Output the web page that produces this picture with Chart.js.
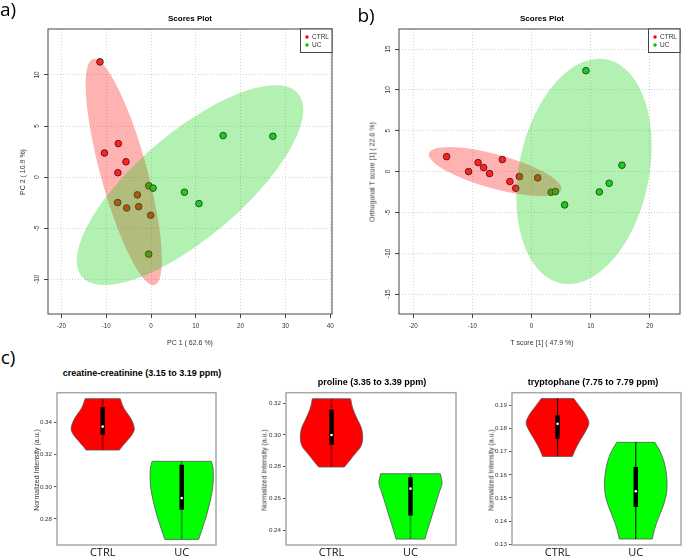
<!DOCTYPE html>
<html>
<head>
<meta charset="utf-8">
<script src="https://cdn.jsdelivr.net/npm/chart.js@4.4.1/dist/chart.umd.min.js"></script>
<style>
  body { margin: 0; background: #fff; }
  #fig { position: relative; width: 685px; height: 557px; overflow: hidden; background: #fff; }
  #fig canvas { position: absolute; }
  .t { position: absolute; white-space: nowrap; transform: translate(-50%, -50%); line-height: 1;
       font-family: 'Liberation Sans', Arial, sans-serif; color: #333; }
  .rot { transform: translate(-50%, -50%) rotate(-90deg); }
  .letter { font-family: 'Open Sans', sans-serif; font-size: 19px; color: #000; }
  .ttl { font-weight: bold; font-size: 8px; color: #000; }
  .vttl { font-weight: bold; font-size: 9px; color: #000; }
  .ax { font-size: 7px; }
</style>
</head>
<body>
<div id="fig">
  <canvas id="pca" width="345" height="340" style="left:0;top:0"></canvas>
  <canvas id="opls" width="335" height="340" style="left:350px;top:0"></canvas>
  <canvas id="v1" width="228" height="172" style="left:0;top:385px"></canvas>
  <canvas id="v2" width="230" height="172" style="left:230px;top:385px"></canvas>
  <canvas id="v3" width="225" height="172" style="left:460px;top:385px"></canvas>

  <div class="t letter" style="left:8px;top:9px">a)</div>
  <div class="t letter" style="left:366px;top:15px">b)</div>
  <div class="t letter" style="left:8px;top:357px">c)</div>

  <div class="t ttl" style="left:190px;top:19px">Scores Plot</div>
  <div class="t ttl" style="left:542px;top:19px">Scores Plot</div>
  <div class="t ax" style="left:190px;top:342px">PC 1 ( 62.6 %)</div>
  <div class="t ax" style="left:542px;top:342px">T score [1] ( 47.9 %)</div>
  <div class="t ax rot" style="left:22px;top:172px">PC 2 ( 10.9 %)</div>
  <div class="t ax rot" style="left:372px;top:172px">Orthogonal T score [1] ( 22.6 %)</div>

  <div class="t vttl" style="left:142px;top:373px">creatine-creatinine (3.15 to 3.19 ppm)</div>
  <div class="t vttl" style="left:372px;top:382px">proline (3.35 to 3.39 ppm)</div>
  <div class="t vttl" style="left:593px;top:382px">tryptophane (7.75 to 7.79 ppm)</div>
  <div class="t ax rot" style="left:36px;top:470px">Normalized Intensity (a.u.)</div>
  <div class="t ax rot" style="left:264px;top:470px">Normalized Intensity (a.u.)</div>
  <div class="t ax rot" style="left:491px;top:470px">Normalized Intensity (a.u.)</div>
</div>

<script>
const groups = ['CTRL', 'UC'];
const pointColors = ['#ff3030', '#30c830'];
const ellipseColors = ['rgba(255,0,0,0.3)', 'rgba(0,210,0,0.3)'];
const violinColors = ['#ff0000', '#00ff00'];

// a) PCA scores
const pcaCtrlX = [-11.4, -10.4, -7.3, -5.6, -7.4, -3.05, -7.45, -5.44, -2.76, -0.07];
const pcaCtrlY = [11.28, 2.36, 3.28, 1.5, 0.43, -1.74, -2.49, -3.02, -2.89, -3.74];
const pcaUcX = [-0.5, 0.45, 7.45, 10.7, 16.1, 27.2, -0.52];
const pcaUcY = [-0.85, -1.08, -1.48, -2.59, 4.07, 4.0, -7.54];
const pcaXTicks = [-20, -10, 0, 10, 20, 30, 40];
const pcaYTicks = [-10, -5, 0, 5, 10];

// b) OPLS-DA scores
const oplsCtrlX = [-14.35, -10.64, -9.03, -8.09, -7.09, -4.93, -3.66, -2.66, -2.05, 1.05];
const oplsCtrlY = [1.83, 0, 1.1, 0.49, -0.24, 1.47, -1.22, -2.04, -0.61, -0.77];
const oplsUcX = [3.32, 4.04, 5.6, 9.2, 11.47, 13.13, 15.29];
const oplsUcY = [-2.53, -2.45, -4.08, 12.35, -2.49, -1.43, 0.78];
const oplsXTicks = [-20, -10, 0, 10, 20];
const oplsYTicks = [-15, -10, -5, 0, 5, 10, 15];

// c) violins: outline levels (top to bottom) and half widths, per group
const creatLevels = [[0.3549, 0.3491, 0.3429, 0.3387, 0.3356, 0.3325, 0.3283, 0.3252, 0.3229],
                     [0.3159, 0.3117, 0.3055, 0.2993, 0.2909, 0.2826, 0.2743, 0.2673]];
const creatWidths = [[0.222, 0.266, 0.352, 0.39, 0.399, 0.371, 0.30, 0.247, 0.211],
                     [0.375, 0.396, 0.40, 0.392, 0.359, 0.316, 0.262, 0.215]];
const creatBoxes = [[0.3229, 0.3325, 0.3375, 0.3495, 0.3549],
                    [0.2673, 0.2858, 0.2930, 0.3138, 0.3159]];
const creatTicks = [0.28, 0.30, 0.32, 0.34];

const prolLevels = [[0.3227, 0.3169, 0.3106, 0.3043, 0.2980, 0.2928, 0.2875, 0.2833, 0.2798],
                    [0.2756, 0.2697, 0.2645, 0.2561, 0.2477, 0.2393, 0.2345]];
const prolWidths = [[0.242, 0.267, 0.32, 0.378, 0.395, 0.372, 0.288, 0.221, 0.162],
                    [0.378, 0.40, 0.368, 0.315, 0.263, 0.21, 0.183]];
const prolBoxes = [[0.2798, 0.2938, 0.2999, 0.3158, 0.3227],
                   [0.2345, 0.2494, 0.2662, 0.2733, 0.2756]];
const prolTicks = [0.24, 0.26, 0.28, 0.30, 0.32];

const trypLevels = [[0.1931, 0.1897, 0.1861, 0.1825, 0.1789, 0.1745, 0.1709, 0.1680],
                    [0.1741, 0.1702, 0.1659, 0.1608, 0.1557, 0.1514, 0.1463, 0.1413, 0.1362, 0.1322]];
const trypWidths = [[0.207, 0.281, 0.359, 0.401, 0.359, 0.281, 0.226, 0.19],
                    [0.243, 0.31, 0.359, 0.39, 0.40, 0.39, 0.348, 0.289, 0.238, 0.211]];
const trypBoxes = [[0.1680, 0.1756, 0.1821, 0.1858, 0.1931],
                   [0.1322, 0.1461, 0.1529, 0.1634, 0.1741]];
const trypTicks = [0.13, 0.14, 0.15, 0.16, 0.17, 0.18, 0.19];

const sans = "'Liberation Sans', Arial, sans-serif";

// box around the plotting region
const frame = {
  id: 'frame',
  afterDraw(chart, args, opts) {
    const {ctx, chartArea: a} = chart;
    ctx.save();
    ctx.strokeStyle = opts.color;
    ctx.lineWidth = opts.width;
    ctx.strokeRect(a.left, a.top, a.right - a.left, a.bottom - a.top);
    ctx.restore();
  }
};

// 95% confidence ellipses computed from each group's scores
const ellipses = {
  id: 'ellipses',
  afterDatasetsDraw(chart) {
    const {ctx, chartArea: a, scales: {x, y}} = chart;
    ctx.save();
    ctx.beginPath();
    ctx.rect(a.left, a.top, a.right - a.left, a.bottom - a.top);
    ctx.clip();
    chart.data.datasets.forEach((ds, i) => {
      const n = ds.data.length;
      const mx = ds.data.reduce((s, p) => s + p.x, 0) / n;
      const my = ds.data.reduce((s, p) => s + p.y, 0) / n;
      let sxx = 0, syy = 0, sxy = 0;
      ds.data.forEach(p => {
        sxx += (p.x - mx) ** 2; syy += (p.y - my) ** 2; sxy += (p.x - mx) * (p.y - my);
      });
      sxx /= n - 1; syy /= n - 1; sxy /= n - 1;
      const mid = (sxx + syy) / 2, d = Math.sqrt(((sxx - syy) / 2) ** 2 + sxy * sxy);
      const k = Math.sqrt(5.991);
      const ra = k * Math.sqrt(mid + d), rb = k * Math.sqrt(Math.max(mid - d, 0));
      const theta = 0.5 * Math.atan2(2 * sxy, sxx - syy);
      const cx = x.getPixelForValue(mx), cy = y.getPixelForValue(my);
      const kx = x.getPixelForValue(mx + 1) - cx, ky = y.getPixelForValue(my + 1) - cy;
      ctx.save();
      ctx.translate(cx, cy);
      ctx.scale(kx, ky);
      ctx.rotate(theta);
      ctx.beginPath();
      ctx.ellipse(0, 0, ra, rb, 0, 0, Math.PI * 2);
      ctx.fillStyle = ellipseColors[i];
      ctx.fill();
      ctx.restore();
    });
    ctx.restore();
  }
};

// small legend box in the top right corner of the plot
const boxLegend = {
  id: 'boxLegend',
  afterDraw(chart) {
    const {ctx, chartArea: a} = chart;
    const w = 31.5, h = 23.5;
    ctx.save();
    ctx.fillStyle = '#fff';
    ctx.fillRect(a.right - w, a.top, w, h);
    ctx.strokeStyle = '#444';
    ctx.lineWidth = 1;
    ctx.strokeRect(a.right - w, a.top, w, h);
    ctx.font = '6.5px ' + sans;
    ctx.textBaseline = 'middle';
    chart.data.datasets.forEach((ds, i) => {
      const yy = a.top + 8 + i * 8;
      ctx.fillStyle = i === 0 ? '#ff0000' : '#00c000';
      ctx.beginPath();
      ctx.arc(a.right - 25, yy, 1.7, 0, Math.PI * 2);
      ctx.fill();
      ctx.fillStyle = '#333';
      ctx.fillText(ds.label, a.right - 20, yy);
    });
    ctx.restore();
  }
};

function scoresAxis(range, ticks, fit, horizontal) {
  const ax = {
    type: 'linear', min: range[0], max: range[1],
    afterBuildTicks: s => { s.ticks = ticks.map(v => ({value: v})); },
    grid: {color: '#d3d3d3', lineWidth: 1, drawTicks: true, tickLength: 4, tickColor: '#444', tickWidth: 1},
    border: {display: false, dash: [1, 2]},
    ticks: {font: {family: sans, size: 6.3}, color: '#333', autoSkip: false}
  };
  if (horizontal) {
    ax.afterFit = s => { s.height = fit; };
    ax.ticks.padding = 4;
    ax.ticks.maxRotation = 0;
  } else {
    ax.afterFit = s => { s.width = fit; };
    ax.ticks.padding = 2.5;
    ax.ticks.minRotation = 90;
    ax.ticks.maxRotation = 90;
    ax.ticks.crossAlign = 'center';
  }
  return ax;
}

function scoresChart(id, ctrlX, ctrlY, ucX, ucY, xTicks, yTicks, xRange, yRange, yWidth, padRight) {
  const pts = (xs, ys) => xs.map((v, i) => ({x: v, y: ys[i]}));
  const sets = [[ctrlX, ctrlY], [ucX, ucY]];
  new Chart(document.getElementById(id), {
    type: 'scatter',
    data: {
      datasets: sets.map((s, i) => ({
        label: groups[i],
        data: pts(s[0], s[1]),
        backgroundColor: pointColors[i],
        borderColor: '#222',
        borderWidth: 1,
        pointRadius: 3.3
      }))
    },
    options: {
      responsive: false, animation: false, devicePixelRatio: 1,
      layout: {padding: {left: 0, top: 29, right: padRight, bottom: 0}},
      plugins: {legend: {display: false}, tooltip: {enabled: false}, frame: {color: '#444', width: 1}},
      scales: {
        x: scoresAxis(xRange, xTicks, 26, true),
        y: scoresAxis(yRange, yTicks, yWidth, false)
      }
    },
    plugins: [ellipses, frame, boxLegend]
  });
}

function violinChart(id, levels, widths, boxes, yTicks, xRange, yRange, yWidth, padRight, whisker) {
  const datasets = [];
  groups.forEach((g, gi) => {
    const pos = gi + 1;
    const lv = levels[gi], hw = widths[gi], bx = boxes[gi];
    const right = lv.map((v, i) => ({x: pos + hw[i], y: v})).reverse();
    const left = lv.map((v, i) => ({x: pos - hw[i], y: v}));
    const shape = [right[0], ...right, right[right.length - 1],
                   left[0], ...left, left[left.length - 1], right[0]];
    datasets.push({
      data: shape, showLine: true, fill: 'shape', tension: 0.3,
      backgroundColor: violinColors[gi], borderColor: '#555', borderWidth: 0.8,
      pointRadius: 0, order: 3
    });
    datasets.push({
      data: [{x: pos, y: bx[0]}, {x: pos, y: bx[4]}], showLine: true,
      borderColor: whisker.color, borderWidth: whisker.width, pointRadius: 0, order: 2
    });
    datasets.push({
      data: [{x: pos, y: bx[1]}, {x: pos, y: bx[3]}], showLine: true,
      borderColor: '#000', borderWidth: 4.5, borderCapStyle: 'butt', pointRadius: 0, order: 1
    });
    datasets.push({
      data: [{x: pos, y: bx[2]}], pointRadius: 1.3, backgroundColor: '#fff', borderWidth: 0, order: 0
    });
  });
  new Chart(document.getElementById(id), {
    type: 'scatter',
    data: {datasets},
    options: {
      responsive: false, animation: false, devicePixelRatio: 1,
      layout: {padding: {left: 0, top: 7.7, right: padRight, bottom: 0}},
      plugins: {legend: {display: false}, tooltip: {enabled: false}, frame: {color: '#a8a8a8', width: 1.5}},
      scales: {
        x: {
          type: 'linear', min: xRange[0], max: xRange[1],
          afterBuildTicks: s => { s.ticks = groups.map((g, i) => ({value: i + 1})); },
          afterFit: s => { s.height = 12; },
          grid: {display: false, drawTicks: false},
          border: {display: false},
          ticks: {font: {family: "'Open Sans', sans-serif", size: 11}, color: '#111', padding: 1.4,
                  maxRotation: 0, autoSkip: false, callback: v => groups[Math.round(v) - 1]}
        },
        y: {
          type: 'linear', min: yRange[0], max: yRange[1],
          afterBuildTicks: s => { s.ticks = yTicks.map(v => ({value: v})); },
          afterFit: s => { s.width = yWidth; },
          grid: {drawOnChartArea: false, drawTicks: true, tickLength: 3, tickColor: '#555'},
          border: {display: false},
          ticks: {font: {family: sans, size: 6.2}, color: '#333', padding: 2, autoSkip: false,
                  callback: v => v.toFixed(2)}
        }
      }
    },
    plugins: [frame]
  });
}

scoresChart('pca', pcaCtrlX, pcaCtrlY, pcaUcX, pcaUcY, pcaXTicks, pcaYTicks, [-23, 40.4], [-13.4, 14.5], 48, 13);
scoresChart('opls', oplsCtrlX, oplsCtrlY, oplsUcX, oplsUcY, oplsXTicks, oplsYTicks, [-22.4, 25.1], [-17.43, 17.45], 49, 1);

violinChart('v1', creatLevels, creatWidths, creatBoxes, creatTicks, [0.4215, 2.434], [0.2638, 0.3586], 57, 12,
            {color: 'rgba(0,0,0,0.3)', width: 2});
violinChart('v2', prolLevels, prolWidths, prolBoxes, prolTicks, [0.424, 2.576], [0.2308, 0.3265], 56, 4,
            {color: 'rgba(0,0,0,0.3)', width: 2});
violinChart('v3', trypLevels, trypWidths, trypBoxes, trypTicks, [0.418, 2.578], [0.1296, 0.1956], 52, 2,
            {color: '#000', width: 1});
</script>
</body>
</html>
